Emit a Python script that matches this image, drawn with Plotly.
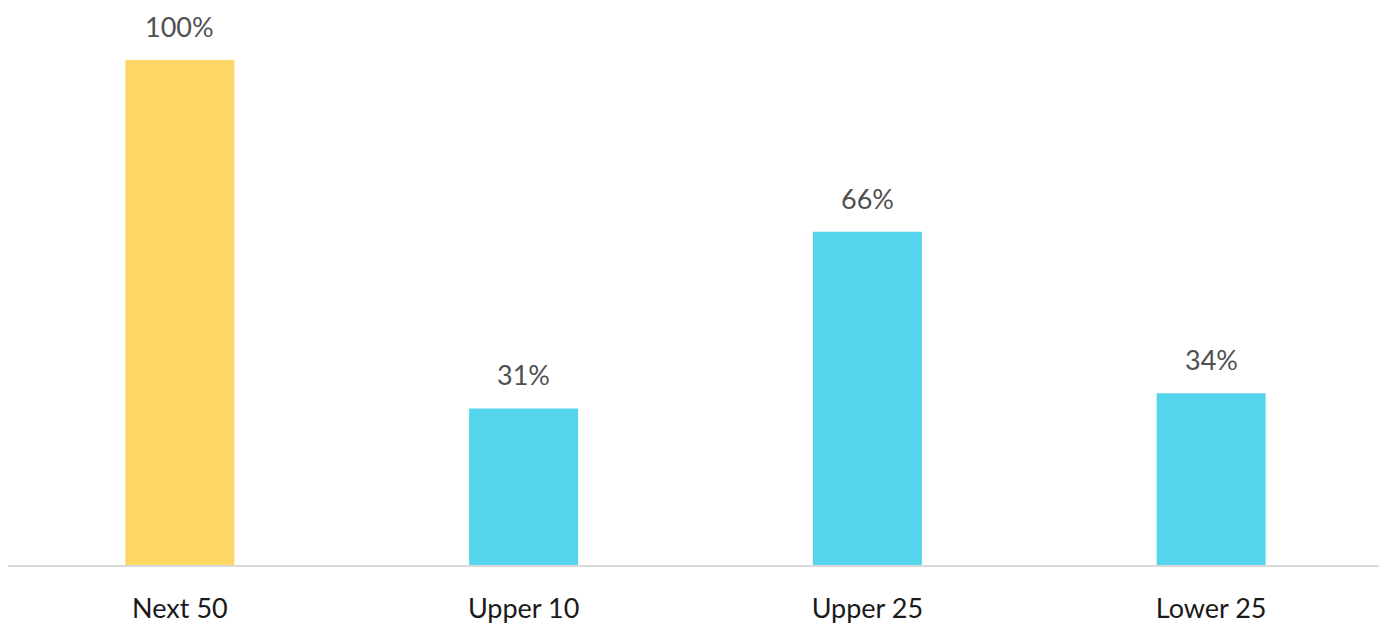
import plotly.graph_objects as go

# data
categories = ["Next 50", "Upper 10", "Upper 25", "Lower 25"]
values = [100, 31, 66, 34]
labels = ["100%", "31%", "66%", "34%"]
colors = ["#FDD766", "#55D5EC", "#55D5EC", "#55D5EC"]

fig = go.Figure()
fig.add_trace(go.Bar(x=categories, y=values, marker=dict(color=colors, line=dict(width=0)),
                     hoverinfo="skip"))

for c, v, t in zip(categories, values, labels):
    fig.add_annotation(x=c, y=v, text=t, showarrow=False, yanchor="bottom", yshift=15,
                       font=dict(size=27, color="#505050", family="Lato"))

# page body has an 8px margin, so the figure is a bit smaller than the window
fig.update_layout(
    width=1379, height=615,
    margin=dict(l=0, r=4, t=52, b=58),
    paper_bgcolor="white", plot_bgcolor="white",
    bargap=0.683,
    showlegend=False,
    font=dict(family="Lato", size=27, color="#1a1a1a"),
    xaxis=dict(showline=True, linecolor="#D9D9D9", linewidth=2, showgrid=False,
               ticks="", ticklabelstandoff=19, automargin=False,
               tickfont=dict(size=27, color="#1a1a1a"),
               range=[-0.5, 3.5]),
    yaxis=dict(visible=False, range=[0, 100], showgrid=False, zeroline=False),
)

fig.write_html("out.html")
